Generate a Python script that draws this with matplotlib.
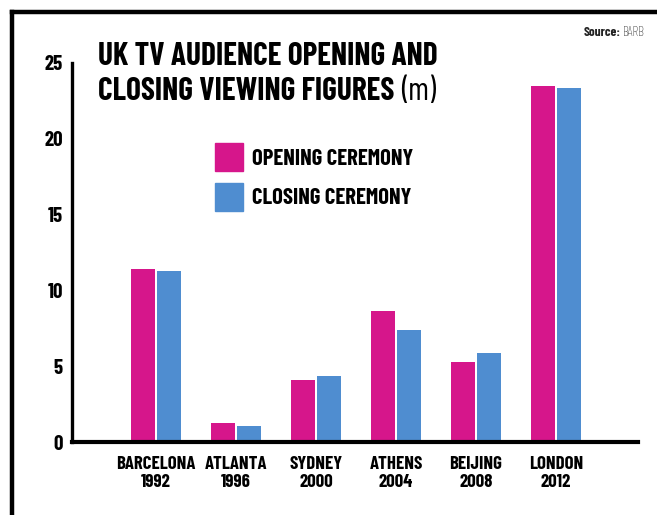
import matplotlib.pyplot as plt
from matplotlib.lines import Line2D
from matplotlib import font_manager
import numpy as np

# data
cities = ['BARCELONA\n1992', 'ATLANTA\n1996', 'SYDNEY\n2000', 'ATHENS\n2004', 'BEIJING\n2008', 'LONDON\n2012']
opening = [11.4, 1.25, 4.1, 8.65, 5.3, 23.5]
closing = [11.3, 1.05, 4.35, 7.4, 5.9, 23.35]
yticks = [0, 5, 10, 15, 20, 25]

PINK = '#d6168b'
BLUE = '#4f8dd0'

names = {f.name for f in font_manager.fontManager.ttflist}
COND = ['Barlow Condensed', 'DejaVu Sans'] if 'Barlow Condensed' in names else ['DejaVu Sans']

W, H = 657, 515
fig = plt.figure(figsize=(W / 100, H / 100), dpi=100)
ax = fig.add_axes([72 / W, 1 - 442 / H, 566 / W, 379 / H])

x = np.arange(len(cities))
w = 0.3
ax.bar(x - 0.165, opening, w, color=PINK)
ax.bar(x + 0.165, closing, w, color=BLUE)

ax.set_xlim(-1.05, 6.025)
ax.set_ylim(0, 25)
ax.set_yticks(yticks)
ax.set_xticks(x)
ax.set_xticklabels(cities, family=COND, fontweight='bold', fontsize=13.5, linespacing=1.1)
for lbl in ax.get_yticklabels():
    lbl.set_family(COND)
    lbl.set_fontweight('bold')
    lbl.set_fontsize(15)
ax.tick_params(axis='y', length=0, pad=6.5)
ax.tick_params(axis='x', length=0, pad=10)
for s in ['top', 'right']:
    ax.spines[s].set_visible(False)
ax.spines['left'].set_linewidth(2.4)
ax.spines['bottom'].set_linewidth(3.0)

# title
fig.text(98 / W, 1 - 65 / H, 'UK TV AUDIENCE OPENING AND', family=COND, fontweight='bold',
         fontsize=22.6, va='baseline', ha='left')
line2 = fig.text(98 / W, 1 - 100 / H, 'CLOSING VIEWING FIGURES', family=COND, fontweight='bold',
                 fontsize=22.6, va='baseline', ha='left')
fig.canvas.draw()
bb = line2.get_window_extent()
fig.text((bb.x1 + 7) / W, 1 - 100 / H, '(m)', family=COND, fontweight='normal',
         fontsize=23, va='baseline', ha='left')

# legend
for top, base, col, txt in [(143, 165, PINK, 'OPENING CEREMONY'), (183, 204, BLUE, 'CLOSING CEREMONY')]:
    fig.patches.append(plt.Rectangle((215 / W, 1 - (top + 28) / H), 28 / W, 28 / H,
                                     transform=fig.transFigure, color=col))
    fig.text(252 / W, 1 - base / H, txt, family=COND, fontweight='bold', fontsize=16.3,
             va='baseline', ha='left')

src = fig.text(645 / W, 1 - 36 / H, 'BARB', family=COND, fontweight='light',
               fontsize=9.5, ha='right', va='baseline', color='#222222')
fig.canvas.draw()
sb = src.get_window_extent()
fig.text((sb.x0 - 3) / W, 1 - 36 / H, 'Source:', family=COND, fontweight='bold',
         fontsize=9.5, ha='right', va='baseline', color='#222222')

# frame
fig.add_artist(Line2D([12 / W, 12 / W], [0, 1 - 12 / H], transform=fig.transFigure,
                      color='black', lw=3.2))
fig.add_artist(Line2D([12 / W, 1], [1 - 12 / H, 1 - 12 / H], transform=fig.transFigure,
                      color='black', lw=3.2))

fig.savefig('out.png', dpi=100)
